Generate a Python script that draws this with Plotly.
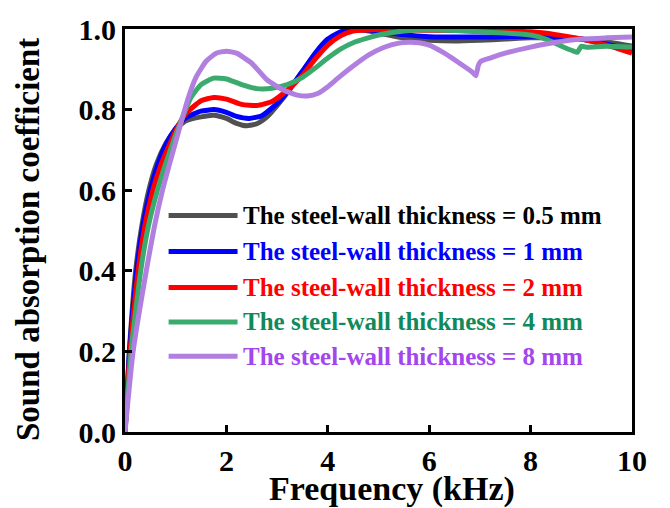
import plotly.graph_objects as go

# Sound absorption spectra for different steel-wall thicknesses
labels = ["0.5 mm", "1 mm", "2 mm", "4 mm", "8 mm"]

freq_05 = [0, 0.085, 0.21, 0.33, 0.47, 0.62, 0.8, 1.0, 1.2, 1.5, 1.75, 2.0, 2.2, 2.4, 2.6,
           2.8, 3.0, 3.25, 3.5, 3.75, 4.0, 4.25, 4.5, 4.75, 5.0, 5.5, 6.0, 6.5, 7.0, 7.5,
           8.0, 8.5, 9.0, 9.5, 10.0]
alpha_05 = [0, 0.2, 0.4, 0.51, 0.6, 0.665, 0.715, 0.752, 0.772, 0.782, 0.786, 0.778, 0.766,
            0.76, 0.765, 0.782, 0.81, 0.85, 0.895, 0.938, 0.972, 0.99, 0.998, 0.996, 0.99,
            0.978, 0.972, 0.97, 0.972, 0.975, 0.978, 0.978, 0.975, 0.968, 0.958]

freq_1 = [0, 0.09, 0.23, 0.35, 0.5, 0.65, 0.8, 1.0, 1.2, 1.5, 1.75, 2.0, 2.2, 2.45, 2.7,
          3.0, 3.25, 3.5, 3.75, 4.0, 4.25, 4.5, 5.0, 5.5, 6.0, 7.0, 8.0, 8.5, 9.0, 9.5, 10.0]
alpha_1 = [0, 0.2, 0.4, 0.51, 0.6, 0.665, 0.712, 0.753, 0.78, 0.796, 0.8, 0.793, 0.783,
           0.778, 0.785, 0.815, 0.852, 0.895, 0.94, 0.975, 0.993, 0.999, 0.995, 0.986,
           0.981, 0.98, 0.982, 0.98, 0.975, 0.962, 0.948]

freq_2 = [0, 0.1, 0.26, 0.39, 0.55, 0.7, 0.85, 1.0, 1.2, 1.5, 1.75, 2.0, 2.3, 2.6, 2.9,
          3.2, 3.5, 3.75, 4.0, 4.25, 4.5, 5.0, 6.0, 7.0, 8.0, 8.5, 9.0, 9.5, 10.0]
alpha_2 = [0, 0.2, 0.4, 0.51, 0.6, 0.66, 0.705, 0.748, 0.79, 0.822, 0.83, 0.826, 0.813,
           0.81, 0.82, 0.848, 0.885, 0.925, 0.96, 0.983, 0.995, 0.999, 0.997, 0.996,
           0.993, 0.986, 0.975, 0.96, 0.94]

freq_4 = [0, 0.12, 0.31, 0.46, 0.64, 0.8, 0.95, 1.1, 1.3, 1.5, 1.75, 2.0, 2.3, 2.6, 2.9,
          3.2, 3.5, 3.75, 4.0, 4.25, 4.5, 5.0, 5.5, 6.0, 6.5, 7.0, 7.5, 8.0, 8.3, 8.6,
          8.85, 8.92, 9.0, 9.1, 9.5, 10.0]
alpha_4 = [0, 0.2, 0.4, 0.51, 0.6, 0.665, 0.72, 0.77, 0.83, 0.862, 0.878, 0.876, 0.862,
           0.852, 0.853, 0.862, 0.88, 0.903, 0.928, 0.95, 0.966, 0.985, 0.995, 0.998,
           0.996, 0.993, 0.99, 0.985, 0.975, 0.958, 0.945, 0.942, 0.957, 0.955, 0.957,
           0.955]

freq_8 = [0, 0.16, 0.42, 0.58, 0.74, 0.9, 1.0, 1.1, 1.25, 1.4, 1.6, 1.8, 2.0, 2.2,
          2.5, 2.8, 3.1, 3.4, 3.6, 3.8, 4.0, 4.2, 4.5, 4.8, 5.1, 5.4, 5.6, 5.8, 6.0, 6.3,
          6.6, 6.85, 6.92, 6.97, 7.02, 7.2, 7.5, 8.0, 8.5, 9.0, 9.5, 10.0]
alpha_8 = [0, 0.2, 0.4, 0.51, 0.6, 0.675, 0.72, 0.765, 0.83, 0.88, 0.92, 0.94, 0.945,
           0.94, 0.915, 0.874, 0.85, 0.836, 0.834, 0.84, 0.857, 0.878, 0.908, 0.935,
           0.954, 0.965, 0.967, 0.966, 0.96, 0.94, 0.915, 0.893, 0.884, 0.91, 0.92,
           0.928, 0.94, 0.955, 0.967, 0.975, 0.978, 0.98]

freqs = [freq_05, freq_1, freq_2, freq_4, freq_8]
alphas = [alpha_05, alpha_1, alpha_2, alpha_4, alpha_8]
line_colors = ["#505050", "#0000FF", "#FF0000", "#3BAA6E", "#B07FE0"]
text_colors = ["#000000", "#0000FF", "#FF0000", "#0E8A5C", "#A346EE"]

SERIF = "Liberation Serif"

fig = go.Figure()
for f, a, c, lab in zip(freqs, alphas, line_colors, labels):
    fig.add_trace(go.Scatter(
        x=f, y=a, mode="lines", name=lab, showlegend=False,
        line=dict(color=c, width=5, shape="spline", smoothing=0.5),
    ))

# Hand-built legend: long line samples with coloured labels
leg_x0, leg_x1, leg_tx = 0.086, 0.222, 0.229
leg_rows = [0.537, 0.448, 0.3585, 0.273, 0.188]
for lab, lc, tc, yy in zip(labels, line_colors, text_colors, leg_rows):
    fig.add_shape(type="line", xref="x domain", yref="y domain",
                  x0=leg_x0, x1=leg_x1, y0=yy, y1=yy,
                  line=dict(color=lc, width=5))
    fig.add_annotation(xref="x domain", yref="y domain", x=leg_tx, y=yy,
                       xanchor="left", yanchor="middle", showarrow=False,
                       text="The steel-wall thickness = " + lab,
                       font=dict(family=SERIF, size=25, color=tc, weight="bold"))

# Axis titles
fig.add_annotation(xref="paper", yref="paper", x=0.5276, y=-0.142,
                   xanchor="center", yanchor="middle", showarrow=False,
                   text="Frequency (kHz)",
                   font=dict(family=SERIF, size=34, color="black", weight="bold"))
fig.add_annotation(xref="paper", yref="paper", x=-0.19, y=0.478,
                   xanchor="center", yanchor="middle", showarrow=False,
                   textangle=-90, text="Sound absorption coefficient",
                   font=dict(family=SERIF, size=33, color="black", weight="bold"))

axis_common = dict(
    showline=True, linecolor="black", linewidth=3, mirror=True,
    ticks="inside", ticklen=7, tickwidth=2.5, tickcolor="black",
    showgrid=False, zeroline=False,
    tickfont=dict(family=SERIF, size=30, color="black", weight="bold"),
)
fig.update_xaxes(range=[0, 10], tickvals=[0, 2, 4, 6, 8, 10], **axis_common)
fig.update_yaxes(range=[0, 1.0], tickvals=[0, 0.2, 0.4, 0.6, 0.8, 1.0],
                 tickformat=".1f", **axis_common)

fig.update_layout(
    width=670, height=508,
    margin=dict(l=124.5, r=37.5, t=22, b=76),
    paper_bgcolor="white", plot_bgcolor="white",
    font=dict(family=SERIF, color="black"),
)

fig.write_html("out.html")
